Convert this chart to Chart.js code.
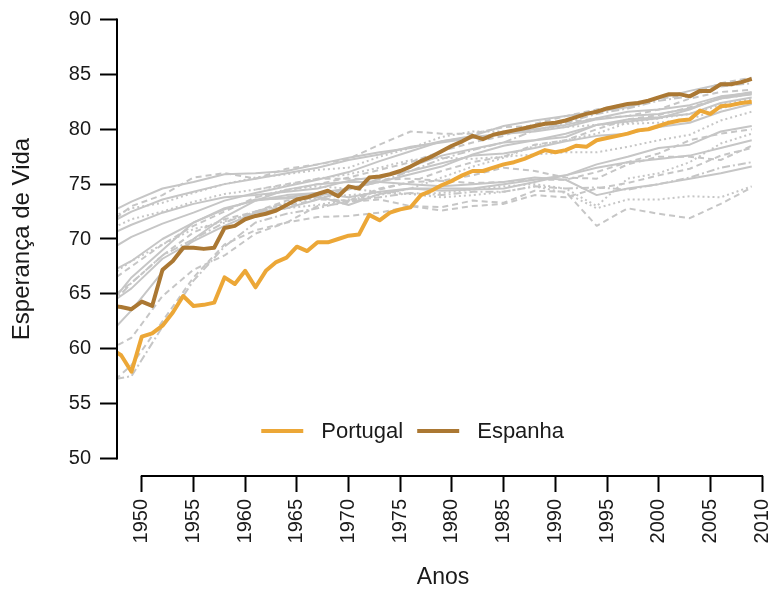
<!DOCTYPE html>
<html lang="pt">
<head>
<meta charset="utf-8">
<title>Esperança de Vida</title>
<script src="https://cdn.jsdelivr.net/npm/chart.js@4.4.0/dist/chart.umd.min.js"></script>
<style>
  html, body { margin: 0; padding: 0; background: #fff; }
  #wrap { width: 769px; height: 592px; }
</style>
</head>
<body>
<div id="wrap"><canvas id="chart" width="769" height="592"></canvas></div>
<script>
// anos das duas series principais
const years = [
  1947, 1948, 1949, 1950, 1951, 1952, 1953, 1954, 1955, 1956, 1957, 1958, 1959,
  1960, 1961, 1962, 1963, 1964, 1965, 1966, 1967, 1968, 1969,
  1970, 1971, 1972, 1973, 1974, 1975, 1976, 1977, 1978, 1979,
  1980, 1981, 1982, 1983, 1984, 1985, 1986, 1987, 1988, 1989,
  1990, 1991, 1992, 1993, 1994, 1995, 1996, 1997, 1998, 1999,
  2000, 2001, 2002, 2003, 2004, 2005, 2006, 2007, 2008, 2009
];

const portugal = [
  60.0, 59.4, 57.9, 61.1, 61.4, 62.1, 63.3, 64.8, 63.9, 64.0, 64.2, 66.5, 65.9,
  67.1, 65.6, 67.1, 67.9, 68.3, 69.3, 68.9, 69.7, 69.7, 70.0,
  70.3, 70.4, 72.2, 71.7, 72.4, 72.7, 72.9, 74.0, 74.4, 74.9,
  75.3, 75.8, 76.2, 76.2, 76.5, 76.8, 77.0, 77.3, 77.7, 78.1,
  77.9, 78.1, 78.5, 78.4, 79.0, 79.2, 79.4, 79.6, 79.9, 80.0,
  80.3, 80.6, 80.8, 80.9, 81.7, 81.4, 82.1, 82.2, 82.4, 82.5
];

const espanha = [
  63.9, 63.8, 63.6, 64.3, 63.9, 67.2, 68.0, 69.2, 69.2, 69.1, 69.2, 71.0, 71.2,
  71.8, 72.1, 72.3, 72.6, 73.1, 73.6, 73.8, 74.1, 74.4, 73.9,
  74.8, 74.6, 75.6, 75.7, 75.9, 76.2, 76.6, 77.1, 77.5, 78.0,
  78.5, 78.9, 79.4, 79.1, 79.5, 79.7, 79.9, 80.1, 80.3, 80.5,
  80.6, 80.8, 81.1, 81.4, 81.6, 81.9, 82.1, 82.3, 82.4, 82.6,
  82.9, 83.2, 83.2, 83.0, 83.5, 83.5, 84.1, 84.1, 84.3, 84.6
];

// outros paises (linhas cinzentas)
const greyYears = [1946, 1949, 1952, 1955, 1958, 1961, 1964, 1967, 1970, 1973, 1976,
                   1979, 1982, 1985, 1988, 1991, 1994, 1997, 2000, 2003, 2006, 2009];

const outro01 = [72.0, 73.4, 74.6, 75.2, 75.9, 76.0, 76.2, 76.8, 77.4, 77.9, 78.3, 78.9, 79.3, 79.6, 79.8, 80.2, 80.9, 81.2, 81.4, 81.9, 82.8, 83.2];
const outro02 = [71.0, 72.5, 73.6, 74.3, 75.0, 75.5, 76.0, 76.5, 77.2, 77.7, 78.4, 78.8, 79.2, 79.6, 80.0, 80.4, 81.0, 81.6, 81.8, 82.2, 83.0, 83.3];
const outro03 = [70.8, 73.0, 74.0, 75.6, 76.0, 75.5, 76.4, 76.8, 77.3, 78.6, 79.8, 79.6, 79.6, 80.2, 80.3, 80.6, 81.0, 81.2, 81.8, 82.8, 83.4, 83.6];
const outro04 = [71.5, 72.8, 73.3, 74.2, 75.0, 75.6, 75.9, 76.3, 76.5, 77.5, 78.3, 79.3, 79.8, 79.8, 80.0, 80.2, 80.4, 80.5, 80.6, 80.9, 81.9, 82.6];
const outro05 = [68.5, 70.2, 71.4, 72.4, 73.5, 74.2, 74.8, 75.4, 76.1, 77.1, 78.0, 78.9, 79.4, 80.3, 80.8, 81.2, 81.6, 82.0, 82.8, 83.5, 84.1, 84.5];
const outro06 = [65.5, 67.5, 69.5, 71.2, 72.5, 73.8, 74.4, 75.0, 75.6, 76.3, 77.0, 78.0, 78.8, 79.4, 80.5, 81.2, 81.8, 82.3, 82.8, 83.1, 84.2, 84.7];
const outro07 = [63.0, 66.0, 68.5, 70.0, 71.5, 72.5, 73.3, 73.9, 74.6, 75.2, 76.2, 77.3, 78.1, 78.8, 79.9, 80.6, 81.4, 81.9, 82.6, 83.0, 83.9, 84.2];
const outro08 = [70.0, 71.3, 72.4, 73.2, 73.8, 74.0, 74.3, 74.6, 75.3, 75.7, 76.2, 76.9, 77.6, 77.8, 78.3, 78.9, 79.4, 79.6, 80.2, 80.6, 81.6, 82.3];
const outro09 = [70.5, 71.8, 72.5, 73.4, 74.1, 74.5, 74.9, 75.5, 75.9, 76.5, 77.2, 77.4, 77.3, 77.5, 77.7, 77.9, 77.9, 78.4, 79.0, 79.5, 80.8, 81.6];
const outro10 = [66.5, 68.0, 70.0, 71.5, 72.8, 73.5, 74.0, 74.2, 74.6, 75.2, 75.9, 76.6, 77.7, 78.5, 79.0, 79.6, 80.4, 80.9, 81.1, 81.4, 82.4, 82.9];
const outro11 = [64.0, 66.0, 68.5, 70.6, 71.8, 72.5, 73.0, 73.6, 73.5, 74.6, 75.2, 76.2, 77.0, 77.5, 78.6, 79.0, 80.0, 80.9, 81.3, 82.0, 82.8, 83.2];
const outro12 = [63.5, 65.5, 68.2, 69.8, 71.2, 72.4, 72.8, 73.6, 74.5, 75.5, 76.6, 77.6, 78.2, 78.8, 79.0, 79.3, 80.4, 80.7, 81.0, 81.8, 82.9, 83.4];
const outro13 = [66.0, 68.0, 69.5, 70.9, 71.6, 72.4, 72.8, 73.1, 73.6, 74.0, 74.6, 75.6, 76.6, 77.4, 78.5, 79.0, 79.6, 80.6, 81.0, 81.4, 82.2, 82.8];
const outro14 = [63.0, 66.5, 69.0, 71.5, 72.7, 73.6, 73.7, 73.9, 73.1, 74.1, 74.6, 74.4, 74.5, 74.6, 75.2, 75.8, 76.8, 77.5, 78.3, 78.6, 79.8, 80.3];
const outro15 = [59.5, 61.0, 64.8, 67.2, 68.5, 70.5, 71.5, 72.0, 72.1, 72.4, 73.0, 72.6, 73.0, 73.2, 74.0, 73.8, 74.6, 75.1, 75.8, 76.4, 77.6, 78.3];
const outro16 = [56.0, 58.5, 62.5, 66.5, 69.5, 70.8, 71.5, 73.0, 73.3, 74.5, 75.2, 75.3, 75.1, 75.2, 75.4, 75.4, 76.1, 77.0, 77.8, 79.0, 79.6, 80.0];
const outro17 = [57.0, 57.5, 62.0, 66.2, 69.3, 71.5, 72.3, 72.8, 73.5, 73.8, 74.2, 74.0, 74.3, 74.3, 74.8, 74.6, 74.7, 74.5, 75.0, 75.6, 76.5, 77.0];
const outro18 = [null, null, null, null, null, 72.5, 73.5, 73.8, 73.4, 73.6, 73.0, 72.9, 73.5, 73.3, 74.4, 74.3, 71.2, 72.8, 72.3, 71.9, 73.2, 74.7];
const outro19 = [null, null, null, null, null, 73.8, 74.5, 74.8, 74.6, 74.3, 74.1, 73.8, 74.0, 74.3, 74.8, 74.2, 72.8, 73.6, 73.6, 73.9, 73.8, 74.8];
const outro20 = [null, null, null, null, null, 73.5, 74.5, 75.0, 75.2, 75.2, 75.0, 74.8, 75.0, 75.2, 75.6, 75.4, 74.0, 74.6, 75.0, 75.5, 76.0, 76.6];
const outro21 = [null, null, null, null, null, 72.5, 73.2, 73.8, 74.0, 74.2, 74.1, 74.2, 74.5, 74.8, 75.0, 74.6, 73.0, 75.5, 76.0, 77.0, 78.7, 79.6];
const outro22 = [60.5, 63.5, 67.0, 70.0, 72.0, 73.5, 73.8, 74.2, 73.8, 74.3, 74.6, 74.6, 74.6, 75.0, 75.4, 75.8, 76.5, 77.0, 77.3, 77.6, 78.3, 79.0];
const outro23 = [null, null, null, null, null, 74.5, 75.0, 75.5, 75.5, 75.4, 75.5, 75.3, 75.8, 76.5, 76.2, 75.6, 75.5, 76.8, 77.5, 77.5, 77.2, 78.5];

const yTicks = [50, 55, 60, 65, 70, 75, 80, 85, 90];
const xTicks = [1950, 1955, 1960, 1965, 1970, 1975, 1980, 1985, 1990, 1995, 2000, 2005, 2010];

const outros = [outro01, outro02, outro03, outro04, outro05, outro06, outro07, outro08,
  outro09, outro10, outro11, outro12, outro13, outro14, outro15, outro16, outro17,
  outro18, outro19, outro20, outro21, outro22, outro23];

// estilo do tracejado de cada linha cinzenta
const solid = [], dashed = [6, 4], dotted = [2, 3], dotDash = [8, 3, 2, 3];
const outrosDash = [solid, solid, dashed, dotted, solid, dashed, dotDash, solid,
  dotted, solid, dashed, solid, dotted, solid, dashed, dashed, dotDash,
  dashed, dotted, solid, dotted, solid, dashed];

const FONT = '"Liberation Sans", Arial, Helvetica, sans-serif';
const TEXT = '#1a1a1a';

function toPoints(xs, ys) {
  return xs.map((x, i) => ({ x: x, y: ys[i] }));
}

const datasets = [
  { label: 'Portugal', data: toPoints(years, portugal), borderColor: '#ECA737', borderWidth: 4 },
  { label: 'Espanha', data: toPoints(years, espanha), borderColor: '#AB7833', borderWidth: 4 }
];
outros.forEach((vals, i) => {
  datasets.push({
    label: 'outro' + (i + 1),
    data: toPoints(greyYears, vals),
    borderColor: '#C6C6C6',
    borderWidth: 2,
    borderDash: outrosDash[i]
  });
});

// eixos ao estilo do R: linha so entre o primeiro e o ultimo tick
const axisLines = {
  id: 'axisLines',
  afterDraw(chart) {
    const { ctx, chartArea, scales: { x, y } } = chart;
    ctx.save();
    ctx.strokeStyle = '#000';
    ctx.lineWidth = 2;
    ctx.beginPath();
    ctx.moveTo(chartArea.left, y.getPixelForValue(yTicks[0]) + 1);
    ctx.lineTo(chartArea.left, y.getPixelForValue(yTicks[yTicks.length - 1]) - 1);
    ctx.moveTo(x.getPixelForValue(xTicks[0]) - 1, chartArea.bottom);
    ctx.lineTo(x.getPixelForValue(xTicks[xTicks.length - 1]) + 1, chartArea.bottom);
    ctx.stroke();
    ctx.restore();
  }
};

// legenda dentro da area do grafico
const legendInside = {
  id: 'legendInside',
  afterDraw(chart) {
    const { ctx, scales: { x, y } } = chart;
    const items = chart.data.datasets.slice(0, 2);
    const sampleW = 42, gap = 18, itemGap = 14;
    ctx.save();
    ctx.font = '22px ' + FONT;
    const widths = items.map(d => sampleW + gap + ctx.measureText(d.label).width);
    const total = widths.reduce((a, b) => a + b, 0) + itemGap * (items.length - 1);
    let left = x.getPixelForValue(1976.2) - total / 2;
    const cy = y.getPixelForValue(52.5);
    items.forEach((d, i) => {
      ctx.strokeStyle = d.borderColor;
      ctx.lineWidth = 4;
      ctx.beginPath();
      ctx.moveTo(left, cy);
      ctx.lineTo(left + sampleW, cy);
      ctx.stroke();
      ctx.fillStyle = TEXT;
      ctx.textBaseline = 'middle';
      ctx.textAlign = 'left';
      ctx.fillText(d.label, left + sampleW + gap, cy + 1);
      left += widths[i] + itemGap;
    });
    ctx.restore();
  }
};

new Chart(document.getElementById('chart'), {
  type: 'line',
  data: { datasets: datasets },
  options: {
    responsive: false,
    animation: false,
    devicePixelRatio: 1,
    layout: { padding: { top: 2, left: 0, right: 0, bottom: 0 } },
    elements: {
      point: { radius: 0 },
      line: { tension: 0, borderCapStyle: 'butt', borderJoinStyle: 'round' }
    },
    plugins: {
      legend: { display: false },
      tooltip: { enabled: false }
    },
    scales: {
      x: {
        type: 'linear',
        min: 1947.6,
        max: 2010.67,
        afterBuildTicks: s => { s.ticks = xTicks.map(v => ({ value: v })); },
        afterFit: s => { s.height = 116; s.paddingLeft = 0; s.paddingRight = 0; },
        border: { display: false },
        grid: { drawOnChartArea: false, tickLength: 16, tickWidth: 2, tickColor: '#000' },
        ticks: {
          autoSkip: false, minRotation: 90, maxRotation: 90, padding: 7,
          color: TEXT, font: { family: FONT, size: 20 },
          callback: v => String(v)
        },
        title: {
          display: true, text: 'Anos', color: TEXT,
          font: { family: FONT, size: 23 }, padding: { top: 0, bottom: 1 }
        }
      },
      y: {
        type: 'linear',
        min: 48.4,
        max: 91.6,
        afterBuildTicks: s => { s.ticks = yTicks.map(v => ({ value: v })); },
        afterFit: s => { s.width = 117; s.paddingTop = 0; s.paddingBottom = 0; },
        border: { display: false },
        grid: { drawOnChartArea: false, tickLength: 17, tickWidth: 2, tickColor: '#000' },
        ticks: {
          padding: 9, color: TEXT, font: { family: FONT, size: 20 },
          callback: v => String(v)
        },
        title: {
          display: true, text: 'Esperança de Vida', color: TEXT,
          font: { family: FONT, size: 24 }, padding: { top: 8, bottom: 0 }
        }
      }
    }
  },
  plugins: [axisLines, legendInside]
});
</script>
</body>
</html>
